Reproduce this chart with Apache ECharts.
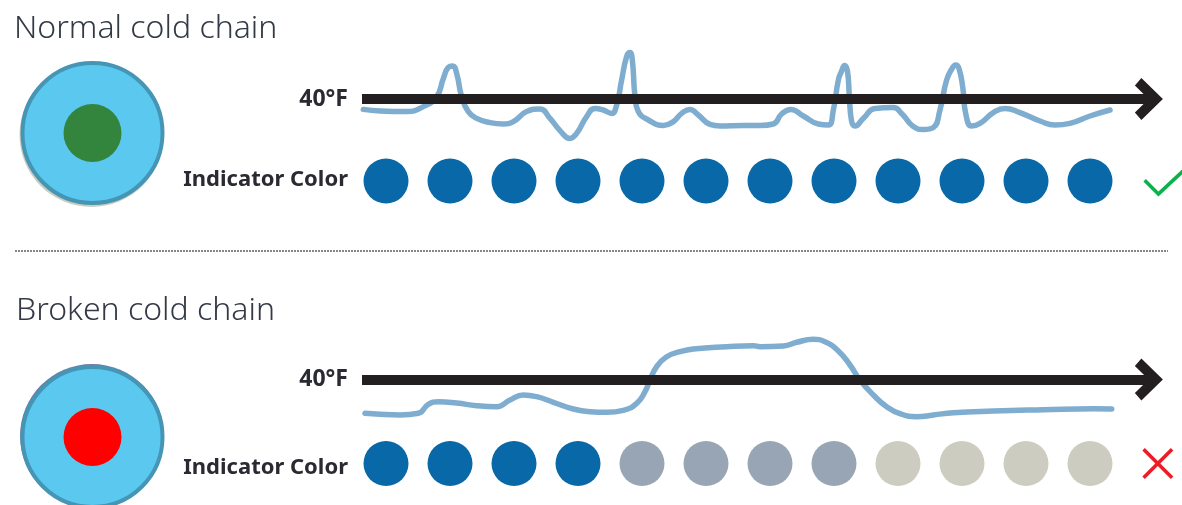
<!DOCTYPE html>
<html><head><meta charset="utf-8">
<style>html,body{margin:0;padding:0;background:#fff;overflow:hidden}#c{width:1182px;height:505px}</style>
<script src="https://cdn.jsdelivr.net/npm/echarts@6/dist/echarts.min.js"></script></head>
<body><div id="c"></div>
<script>
const panelTitles=['Normal cold chain','Broken cold chain'];
const thresholdF=40;
const thresholdLabel='40°F';
const indicatorLabel='Indicator Color';
const indicatorDays=[1,2,3,4,5,6,7,8,9,10,11,12];
const normalDays=[0.646,0.906,1.323,1.583,1.792,1.896,1.974,2.042,2.104,2.182,2.286,2.417,2.625,2.833,2.99,3.198,3.406,3.563,3.719,3.875,3.979,4.135,4.266,4.396,4.526,4.604,4.682,4.76,4.8125,4.849,4.891,4.943,5.099,5.333,5.49,5.62,5.75,5.88,6.0625,6.219,6.583,6.844,7.052,7.182,7.323,7.521,7.755,7.911,7.99,8.068,8.12,8.165,8.21,8.24,8.276,8.328,8.458,8.641,8.927,9.057,9.24,9.396,9.552,9.656,9.76,9.85,9.9,9.95,10.01,10.0625,10.151,10.281,10.49,10.672,10.906,11.219,11.453,11.6875,12,12.3125];
const normalTemps=[34.8,34,33.7,36.2,41.2,50.3,55.8,56.5,52.8,41.2,33.7,30.3,28.2,27.5,28.7,33.7,35,30.3,24.2,20.3,22.8,31.2,35.3,34.5,32.8,37,49.5,61.2,63.2,59.5,41.2,33.7,29.5,26.8,28.7,32.8,34.8,32,27.3,26.5,26.8,26.7,27.5,32.5,34.8,31.5,27.5,27,34.5,49.5,54,56.8,54,41.2,28.7,26.5,30.3,35.3,35.7,32.8,26.2,24.8,25.8,34.5,49.5,55.5,57,55.5,46.2,32,26.5,27.8,33.2,35.3,33.2,29,27,27.8,31.5,34.5];
const brokenDays=[0.672,0.906,1.219,1.505,1.661,1.818,2.104,2.417,2.729,2.9375,3.146,3.354,3.615,3.927,4.1875,4.448,4.708,4.917,5.047,5.125,5.229,5.385,5.594,5.802,6.323,6.74,6.844,7.208,7.417,7.677,7.859,8.068,8.25,8.406,8.615,8.823,9.031,9.292,9.552,9.865,10.49,11.271,12.052,12.339];
const brokenTemps=[23.1,22.6,22.3,23.1,27.6,28.9,28.25,26.9,26.4,29.75,32.25,31.4,28.6,25.25,23.9,23.6,24.6,28.1,33.9,39.75,46.4,51.4,53.9,55.25,56.4,56.9,56.4,56.75,58.6,60.1,58.9,54.25,47.25,39.75,32.25,26.4,22.9,21.4,22.25,23.4,24.25,24.9,25.4,25.25];
const normalStates=Array.from({length:12},()=>'#0868A8');
const brokenStates=['#0868A8','#0868A8','#0868A8','#0868A8','#98A5B4','#98A5B4','#98A5B4','#98A5B4','#CDCCC1','#CDCCC1','#CDCCC1','#CDCCC1'];
const discCentres=['#33853D','#FF0000'];
const statusIcons=[
 {day:13.19,color:'#0DB14B',w:45.5,h:31,path:'path://M0 16 L2.5 13.5 L15 26 L43 0 L45.5 2.5 L15 31 Z'},
 {day:13.06,color:'#ED1C24',w:31,h:31,path:'path://M2.5 0 L15.5 13 L28.5 0 L31 2.5 L18 15.5 L31 28.5 L28.5 31 L15.5 18 L2.5 31 L0 28.5 L13 15.5 L0 2.5 Z'}
];
const arrow='path://M21 0 L42 21.5 L34.5 28 L25 18.3 L25 28 L17 28 L17 18.3 L7.5 28 L0 21.5 Z';
const X0=0.625,X1=13.25,arrowEnd=12.92;
const tops=[39,319.5], dotTops=[161,443.5], discTops=[61,369], discHeights=[144,136];
const grids=[],xA=[],yA=[],series=[];
function add(grid,x,y){grids.push(Object.assign({containLabel:false},grid));const i=grids.length-1;
 xA.push(Object.assign({gridIndex:i,show:false},x));yA.push(Object.assign({gridIndex:i},y));return i;}
const labelStyle={color:'#2A2A33',fontFamily:'Noto Sans',fontWeight:'bold'};
[0,1].forEach(p=>{
 const days=p?brokenDays:normalDays,temps=p?brokenTemps:normalTemps,states=p?brokenStates:normalStates;
 const g=add({left:362,width:808,top:tops[p],height:120},{type:'value',min:X0,max:X1},
  {type:'value',min:10,max:70,axisLine:{show:false},axisTick:{show:false},splitLine:{show:false},
   axisLabel:{show:true,customValues:[thresholdF],formatter:()=>thresholdLabel,margin:14,fontSize:23,padding:[2,0,0,0],...labelStyle}});
 series.push({type:'line',xAxisIndex:g,yAxisIndex:g,data:[],silent:true,z:3,
  markLine:{silent:true,animation:false,symbol:['none',arrow],symbolSize:[42,28],label:{show:false},
   lineStyle:{color:'#231F20',width:10,type:'solid',cap:'butt'},itemStyle:{color:'#231F20'},emphasis:{disabled:true},
   data:[[{coord:[X0,thresholdF]},{coord:[arrowEnd,thresholdF]}]]}});
 series.push({type:'line',xAxisIndex:g,yAxisIndex:g,z:4,smooth:0.5,showSymbol:false,symbol:'none',animation:false,
  lineStyle:{color:'#7EADCF',width:5.5,cap:'round',join:'round'},clip:false,
  data:days.map((d,i)=>[d,temps[i]])});
 const d=add({left:362,width:808,top:dotTops[p],height:40},{type:'value',min:X0,max:X1},
  {type:'category',data:[indicatorLabel],axisLine:{show:false},axisTick:{show:false},
   axisLabel:{margin:14,fontSize:22,...labelStyle,verticalAlign:p?'top':'bottom',lineHeight:p?9:3}});
 series.push({type:'scatter',xAxisIndex:d,yAxisIndex:d,symbolSize:45,animation:false,silent:true,
  data:indicatorDays.map((x,i)=>({value:[x,indicatorLabel],itemStyle:{color:states[i],opacity:1}}))});
 const ic=statusIcons[p];
 series.push({type:'scatter',xAxisIndex:d,yAxisIndex:d,clip:false,symbol:ic.path,symbolSize:[ic.w,ic.h],animation:false,silent:true,
  itemStyle:{color:ic.color,opacity:1},data:[[ic.day,indicatorLabel]]});
 const c=add({left:20.5,width:144,top:discTops[p],height:discHeights[p]},{type:'category',data:['disc']},
  {type:'category',data:['disc'],show:false});
 series.push({type:'scatter',xAxisIndex:c,yAxisIndex:c,clip:false,symbolSize:144,symbolOffset:p?[-0.5,-1]:[-1,2],animation:false,silent:true,z:1,
  itemStyle:{color:p?'#6F7BA8':'#CDCCC1',opacity:1},data:[['disc','disc']]});
 series.push({type:'scatter',xAxisIndex:c,yAxisIndex:c,clip:false,symbolSize:140,animation:false,silent:true,z:2,
  itemStyle:{color:'#5BC8F0',borderColor:'#4596B5',borderWidth:4,opacity:1},data:[['disc','disc']]});
 series.push({type:'scatter',xAxisIndex:c,yAxisIndex:c,clip:false,symbolSize:58,animation:false,silent:true,z:3,
  itemStyle:{color:discCentres[p],opacity:1},data:[['disc','disc']]});
});
const titleStyle={color:'#333A45',fontFamily:'Noto Sans',fontWeight:300,fontSize:32};
const chart=echarts.init(document.getElementById('c'),null,{renderer:'canvas'});
chart.setOption({animation:false,backgroundColor:'#fff',tooltip:{show:false},
 title:[{text:panelTitles[0],left:14,top:13,padding:0,textStyle:titleStyle},{text:panelTitles[1],left:16,top:295,padding:0,textStyle:titleStyle}],
 grid:grids,xAxis:xA,yAxis:yA,series,
 graphic:[{type:'line',silent:true,shape:{x1:15,y1:251,x2:1168,y2:251},style:{stroke:'#111',lineWidth:1,lineDash:[2,1]}}]});
</script></body></html>
